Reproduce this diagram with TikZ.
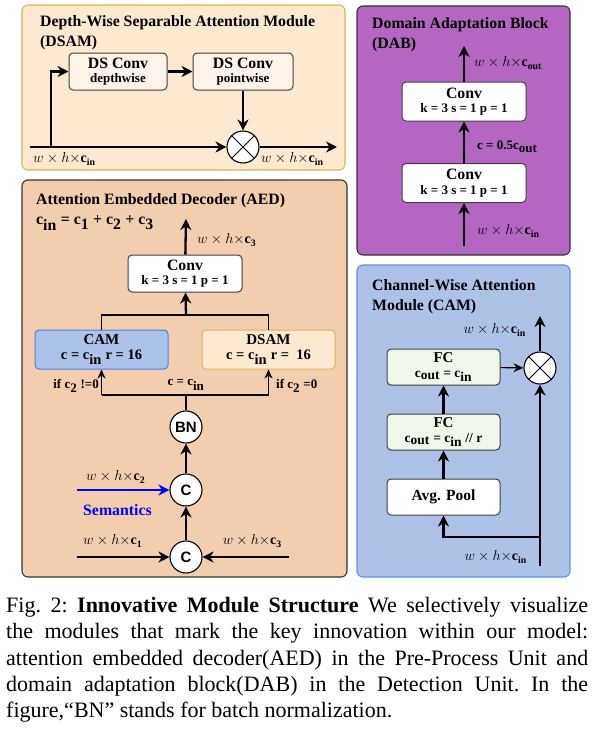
\documentclass[tikz,border=0pt]{standalone}
\usepackage{fontspec}
\setmainfont{Liberation Serif}
\setsansfont{Liberation Sans}
\usepackage{tikz}
\usetikzlibrary{arrows.meta,positioning,calc}
\definecolor{dsamfill}{HTML}{FDE9D0}
\definecolor{dsamedge}{HTML}{E0B358}
\definecolor{dabfill}{HTML}{B565C2}
\definecolor{aedfill}{HTML}{F2CDAE}
\definecolor{camfill}{HTML}{AEC2E8}
\definecolor{camedge}{HTML}{5B8EF0}
\definecolor{camboxfill}{HTML}{ADC2EA}
\definecolor{camboxedge}{HTML}{4F7FDD}
\definecolor{fcfill}{HTML}{EEF7EA}
\definecolor{dsfill}{HTML}{FDF3E8}
\tikzstyle{panel} = [rounded corners=6pt, line width=1.1pt, draw=black!80]
\tikzstyle{block} = [rectangle, rounded corners=4pt, align=center, draw=black!75, line width=1pt, fill=white, inner sep=1pt, font=\bfseries\fontsize{13}{14.5}\selectfont]
\tikzstyle{op} = [circle, draw=black, line width=1.1pt, fill=white, minimum size=32pt, inner sep=0pt, font=\sffamily\bfseries\fontsize{15}{16}\selectfont]
\tikzstyle{arrow} = [line width=2.3pt, -{Stealth[length=11pt,width=11pt]}]
\tikzstyle{link} = [line width=1.2pt]
\tikzstyle{title} = [anchor=north west, align=left, inner sep=0pt, font=\bfseries\fontsize{15.8}{20}\selectfont]
\tikzstyle{lbl} = [inner sep=0pt, font=\fontsize{14}{16}\selectfont]
\tikzstyle{note} = [inner sep=0pt, font=\bfseries\fontsize{13}{15}\selectfont]
\newcommand{\dimlbl}[1]{$w\times h{\times}\mathbf{c}_{\mathbf{#1}}$}
\newcommand{\bigline}[1]{{\fontsize{15.8}{17}\selectfont #1}}
\newcommand{\smallline}[1]{{\fontsize{13}{14.5}\selectfont #1}}

\begin{document}
\begin{tikzpicture}[x=1pt, y=-1pt, >=Stealth]
\useasboundingbox (0,0) rectangle (595,737);

% DSAM panel
\draw[panel, draw=dsamedge, fill=dsamfill] (22,5) rectangle (345,170);
\node[title] (dsamtitle) at (40,15) {Depth-Wise Separable Attention Module\\(DSAM)};
\node[block, fill=dsfill, minimum width=98pt, minimum height=37pt] (dw) at (118,71.5) {\bigline{DS Conv}\\\smallline{depthwise}};
\node[block, fill=dsfill, minimum width=100pt, minimum height=37pt] (pw) at (243,71.5) {\bigline{DS Conv}\\\smallline{pointwise}};
\node[op] (dsmul) at (243,147) {};
\draw[line width=1pt] (dsmul.north west) -- (dsmul.south east) (dsmul.north east) -- (dsmul.south west);
\coordinate (dsin) at (30,147);
\coordinate (dssplit) at (51,147);
\coordinate (dsout) at (337,147);
\draw[arrow] (dsin) -- (dsmul);
\draw[arrow] (dssplit) |- (dw);
\draw[arrow] (dw) -- (pw);
\draw[arrow] (pw) -- (dsmul);
\draw[arrow] (dsmul) -- (dsout);
\node[lbl, anchor=west] at (33,159) {\dimlbl{in}};
\node[lbl, anchor=west] at (261,159) {\dimlbl{in}};

% DAB panel
\draw[panel, fill=dabfill] (357,6) rectangle (570,255);
\node[title] (dabtitle) at (372,17) {Domain Adaptation Block\\(DAB)};
\node[block, minimum width=124pt, minimum height=39pt] (dabconvb) at (464,183) {\bigline{Conv}\\\smallline{k = 3 s = 1 p = 1}};
\node[block, minimum width=124pt, minimum height=39pt] (dabconvt) at (464,101.5) {\bigline{Conv}\\\smallline{k = 3 s = 1 p = 1}};
\coordinate (dabin) at (464,246);
\coordinate (dabout) at (464,46);
\draw[arrow] (dabin) -- (dabconvb);
\draw[arrow] (dabconvb) -- (dabconvt);
\draw[arrow] (dabconvt) -- (dabout);
\node[lbl, anchor=west] at (474,63) {\dimlbl{out}};
\node[note, anchor=west] at (477,147) {c = 0.5c$_{\textbf{out}}$};
\node[lbl, anchor=west] at (477,231) {\dimlbl{in}};

% AED panel
\draw[panel, fill=aedfill] (22,180) rectangle (347,577);
\node[title] (aedtitle) at (36,193) {Attention Embedded Decoder (AED)\\c$_{\textbf{in}}$ = c$_{\textbf{1}}$ + c$_{\textbf{2}}$ + c$_{\textbf{3}}$};
\node[block, minimum width=114pt, minimum height=37pt] (aedconv) at (185,273.5) {\bigline{Conv}\\\smallline{k = 3 s = 1 p = 1}};
\node[block, fill=camboxfill, draw=camboxedge, minimum width=133pt, minimum height=39pt] (cambox) at (101.5,349.5) {{\fontsize{15}{17}\selectfont CAM}\\{\fontsize{14.5}{15}\selectfont c = c$_{\textbf{in}}$ r = 16}};
\node[block, fill=dsamfill, draw=dsamedge, minimum width=133pt, minimum height=39pt] (dsambox) at (268.5,349.5) {{\fontsize{15}{17}\selectfont DSAM}\\{\fontsize{14.5}{15}\selectfont c = c$_{\textbf{in}}$ r =~ 16}};
\node[op] (bn) at (186,427) {BN};
\node[op] (cattop) at (186,490) {C};
\node[op] (catbot) at (186,557) {C};
\coordinate (jtop) at (186,315);
\coordinate (jbot) at (186,395);
\draw[link] (cambox.north) |- (jtop) -| (dsambox.north);
\draw[arrow] (jtop) -- (aedconv);
\coordinate (aedout) at (186,219);
\draw[arrow] (aedconv) -- (aedout);
\node[lbl, anchor=west] at (197,240) {\dimlbl{3}};
\draw[link] (bn) -- (jbot);
\draw[link] (cambox.south |- jbot) -- (dsambox.south |- jbot);
\draw[link, -{Stealth[length=9pt,width=8pt]}] (cambox.south |- jbot) -- (cambox);
\draw[link, -{Stealth[length=9pt,width=8pt]}] (dsambox.south |- jbot) -- (dsambox);
\node[note, anchor=east] at (99,386) {if c$_{\textbf{2}}$ !=0};
\node[note] at (186,385) {c = c$_{\textbf{in}}$};
\node[note, anchor=west] at (276,386) {if c$_{\textbf{2}}$ =0};
\draw[arrow] (cattop) -- (bn);
\draw[arrow] (catbot) -- (cattop);
\coordinate (semin) at (77,490);
\draw[arrow, blue] (semin) -- (cattop);
\node[lbl, anchor=west] at (86,477) {\dimlbl{2}};
\node[anchor=west, inner sep=0pt, text=blue, font=\bfseries\fontsize{15.8}{17}\selectfont] at (83,510) {Semantics};
\coordinate (c1in) at (77,557);
\coordinate (c3in) at (289,557);
\draw[arrow] (c1in) -- (catbot);
\draw[arrow] (c3in) -- (catbot);
\node[lbl, anchor=west] at (83,541) {\dimlbl{1}};
\node[lbl, anchor=east] at (282,541) {\dimlbl{3}};

% CAM panel
\draw[panel, draw=camedge, fill=camfill] (357,265) rectangle (570,577);
\node[title] (camtitle) at (372,279) {Channel-Wise Attention\\Module (CAM)};
\node[block, fill=fcfill, minimum width=113pt, minimum height=36pt] (fctop) at (443.5,367) {{\fontsize{15}{16}\selectfont FC}\\{\fontsize{13.5}{14.5}\selectfont c$_{\textbf{out}}$ = c$_{\textbf{in}}$}};
\node[block, fill=fcfill, minimum width=113pt, minimum height=36pt] (fcbot) at (443.5,432) {{\fontsize{15}{16}\selectfont FC}\\{\fontsize{13.5}{14.5}\selectfont c$_{\textbf{out}}$ = c$_{\textbf{in}}$ // r}};
\node[block, minimum width=113pt, minimum height=36pt, font=\bfseries\fontsize{15.5}{17}\selectfont] (pool) at (443.5,497) {Avg. Pool};
\node[op] (cammul) at (540,368) {};
\draw[line width=1pt] (cammul.north west) -- (cammul.south east) (cammul.north east) -- (cammul.south west);
\coordinate (camin) at (540,566);
\coordinate (camsplit) at (540,537);
\coordinate (camout) at (540,316);
\draw[arrow] (camin) -- (cammul);
\draw[arrow] (cammul) -- (camout);
\draw[arrow] (camsplit) -| (pool);
\draw[arrow] (pool) -- (fcbot);
\draw[arrow] (fcbot) -- (fctop);
\draw[link, -{Stealth[length=10pt,width=9pt]}] (fctop) -- (cammul);
\node[lbl, anchor=east] at (526,330) {\dimlbl{in}};
\node[lbl, anchor=east] at (527,557) {\dimlbl{in}};

% caption
\node[anchor=north west, text width=582pt, align=justify, inner sep=0pt, font=\fontsize{22}{26.3}\selectfont\frenchspacing] (caption) at (6,597) {Fig. 2: \textbf{Innovative Module Structure} We selectively visualize\linebreak the modules that mark the key innovation within our model:\linebreak attention embedded decoder(AED) in the Pre-Process Unit and\linebreak domain adaptation block(DAB) in the Detection Unit. In the\linebreak figure,``BN'' stands for batch normalization.};
\end{tikzpicture}
\end{document}
